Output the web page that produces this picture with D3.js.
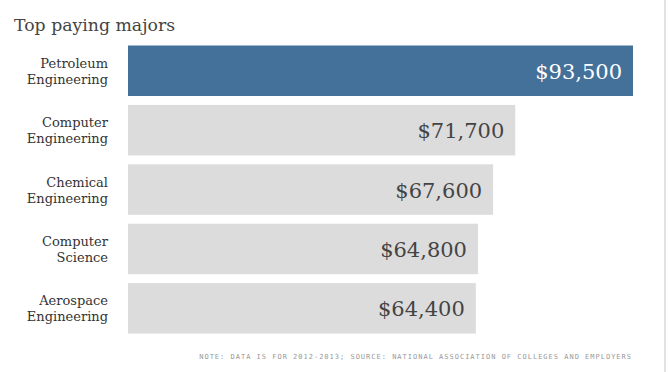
<!DOCTYPE html>
<html>
<head>
<meta charset="utf-8">
<script src="https://cdnjs.cloudflare.com/ajax/libs/d3/7.8.5/d3.min.js"></script>
<style>
  body { margin: 0; background: #fff; }
  svg { display: block; }
</style>
</head>
<body>
<svg id="chart" width="668" height="372"></svg>
<script>
const majors = [
  ["Petroleum", "Engineering"],
  ["Computer", "Engineering"],
  ["Chemical", "Engineering"],
  ["Computer", "Science"],
  ["Aerospace", "Engineering"]
];
const salaries = [93500, 71700, 67600, 64800, 64400];
const highlight = [true, false, false, false, false];

const width = 668, height = 372;
const svg = d3.select("#chart");

// right border
svg.append("rect")
  .attr("x", 664).attr("y", 0)
  .attr("width", 2).attr("height", height)
  .attr("fill", "#e2e2e2");

svg.append("text")
  .attr("x", 14).attr("y", 31)
  .attr("font-family", "DejaVu Serif, serif")
  .attr("font-size", 17.3)
  .attr("fill", "#444")
  .text("Top paying majors");

const x = d3.scaleLinear()
  .domain([0, d3.max(salaries)])
  .range([128, 633]);

const y = d3.scaleBand()
  .domain(d3.range(salaries.length))
  .range([45.5, 333.6])
  .paddingInner(0.15)
  .paddingOuter(0);

const fmt = d3.format("$,");

const row = svg.append("g")
  .selectAll("g")
  .data(salaries)
  .join("g");

row.append("rect")
  .attr("x", x(0))
  .attr("y", (d, i) => y(i))
  .attr("width", d => x(d) - x(0))
  .attr("height", y.bandwidth())
  .attr("fill", (d, i) => highlight[i] ? "#44719a" : "#dcdcdc");

row.append("text")
  .attr("x", d => x(d) - 11)
  .attr("y", (d, i) => y(i) + y.bandwidth() / 2 + 8)
  .attr("text-anchor", "end")
  .attr("font-family", "DejaVu Serif, serif")
  .attr("font-size", 21)
  .attr("fill", (d, i) => highlight[i] ? "#fff" : "#444")
  .text(d => fmt(d));

const label = row.append("text")
  .attr("text-anchor", "end")
  .attr("font-family", "DejaVu Serif, serif")
  .attr("font-size", 13)
  .attr("fill", "#333");

label.selectAll("tspan")
  .data((d, i) => majors[i].map(t => ({ t, i })))
  .join("tspan")
  .attr("x", 108)
  .attr("y", (d, j) => y(d.i) + y.bandwidth() / 2 - 3 + j * 16)
  .text(d => d.t);

svg.append("text")
  .attr("x", 632).attr("y", 359)
  .attr("text-anchor", "end")
  .attr("font-family", "DejaVu Sans Mono, monospace")
  .attr("font-size", 7)
  .attr("letter-spacing", 1.0)
  .attr("fill", "#999")
  .text("NOTE: DATA IS FOR 2012-2013; SOURCE: NATIONAL ASSOCIATION OF COLLEGES AND EMPLOYERS");
</script>
</body>
</html>
